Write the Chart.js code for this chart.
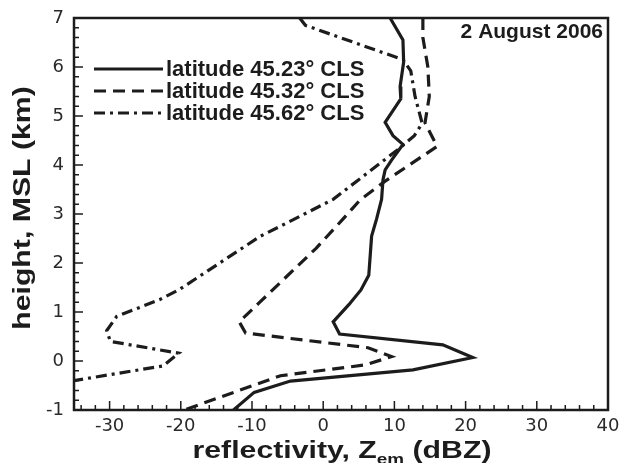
<!DOCTYPE html>
<html>
<head>
<meta charset="utf-8">
<script src="https://cdn.jsdelivr.net/npm/chart.js@4.4.1/dist/chart.umd.min.js"></script>
<style>
  html, body { margin: 0; padding: 0; background: #fff; }
  canvas { display: block; }
</style>
</head>
<body>
<canvas id="profile" width="619" height="463"></canvas>
<script>
// axis ticks
const xTickValues = [-30, -20, -10, 0, 10, 20, 30, 40];
const yTickValues = [-1, 0, 1, 2, 3, 4, 5, 6, 7];

// legend labels
const seriesLabels = ['latitude 45.23° CLS', 'latitude 45.32° CLS', 'latitude 45.62° CLS'];

// latitude 45.23
const height1 = [7.0, 6.55, 6.1, 5.6, 5.35, 4.87, 4.6, 4.42, 4.1, 3.9, 3.7, 3.3, 2.9, 2.55, 1.75, 1.45, 1.15, 0.8, 0.55, 0.33, 0.07, -0.18, -0.41, -0.64, -1.0];
const dbz1 = [9.4, 11.2, 11.3, 10.8, 10.9, 8.7, 9.8, 11.2, 9.6, 8.7, 8.4, 8.2, 7.5, 6.8, 6.4, 5.3, 3.6, 1.4, 2.3, 16.8, 21.0, 12.6, -4.6, -9.7, -12.6];

// latitude 45.32
const height2 = [7.0, 6.6, 6.0, 5.4, 4.86, 4.38, 3.67, 3.29, 2.9, 2.3, 1.73, 1.2, 0.8, 0.57, 0.27, 0.09, -0.08, -0.3, -1.0];
const dbz2 = [14.0, 14.0, 14.7, 14.9, 14.3, 16.0, 8.7, 5.2, 2.8, -1.0, -5.1, -8.9, -11.8, -10.9, 6.3, 9.6, 5.9, -6.0, -19.5];

// latitude 45.62
const height3 = [7.0, 6.85, 6.15, 5.92, 5.4, 4.85, 4.6, 4.35, 3.3, 2.95, 2.54, 1.45, 1.25, 0.91, 0.62, 0.40, 0.16, -0.1, -0.4];
const dbz3 = [-3.3, -2.5, 11.2, 12.3, 12.9, 13.9, 12.8, 10.8, 1.4, -3.3, -8.9, -20.3, -23.0, -29.0, -30.4, -29.9, -20.3, -22.5, -35];

const INK = '#1c1c1c';
const dashes = [[], [12, 7], [11, 5, 3, 5]];

function toPoints(xs, ys) {
    return xs.map((x, i) => ({ x: x, y: ys[i] }));
}

function makeDataset(label, xs, ys, dash) {
    return {
        label: label,
        data: toPoints(xs, ys),
        borderColor: INK,
        borderWidth: 3.2,
        borderDash: dash,
        pointRadius: 0,
        tension: 0,
        fill: false
    };
}

// text drawn wider than the font's normal proportions
function drawWide(ctx, parts, x, y, stretch) {
    let total = 0;
    parts.forEach(p => { ctx.font = p.font; total += ctx.measureText(p.text).width; });
    ctx.save();
    ctx.translate(x, y);
    ctx.scale(stretch, 1);
    let cx = -total / 2;
    ctx.textAlign = 'left';
    ctx.textBaseline = 'alphabetic';
    parts.forEach(p => {
        ctx.font = p.font;
        ctx.fillText(p.text, cx, p.dy || 0);
        cx += ctx.measureText(p.text).width;
    });
    ctx.restore();
}

const decorations = {
    id: 'decorations',
    afterDraw(chart) {
        const ctx = chart.ctx;
        const area = chart.chartArea;
        const xs = chart.scales.x;
        const ys = chart.scales.y;

        ctx.save();
        ctx.strokeStyle = INK;
        ctx.fillStyle = INK;

        // inward tick marks
        ctx.lineWidth = 1.5;
        ctx.beginPath();
        for (let v = -34; v < 40; v += 2) {
            const px = xs.getPixelForValue(v);
            const len = v % 10 === 0 ? 9 : 5;
            ctx.moveTo(px, area.bottom);
            ctx.lineTo(px, area.bottom - len);
        }
        for (let k = -5; k < 35; k++) {
            const v = k / 5;
            const py = ys.getPixelForValue(v);
            const len = k % 5 === 0 ? 9 : 5;
            ctx.moveTo(area.left, py);
            ctx.lineTo(area.left + len, py);
        }
        ctx.stroke();

        // frame
        ctx.lineWidth = 2.5;
        ctx.strokeRect(area.left, area.top, area.right - area.left, area.bottom - area.top);

        // legend
        ctx.font = 'bold 22px "Liberation Sans", Arial, sans-serif';
        ctx.textBaseline = 'middle';
        ctx.textAlign = 'left';
        const rows = [69, 91, 113];
        chart.data.datasets.forEach((ds, i) => {
            ctx.save();
            ctx.lineWidth = 3.2;
            ctx.setLineDash(ds.borderDash);
            ctx.beginPath();
            ctx.moveTo(94, rows[i]);
            ctx.lineTo(163, rows[i]);
            ctx.stroke();
            ctx.restore();
            ctx.fillText(ds.label, 166, rows[i] + 1);
        });

        // date
        ctx.font = 'bold 21px "Liberation Sans", Arial, sans-serif';
        ctx.textAlign = 'right';
        ctx.textBaseline = 'alphabetic';
        ctx.fillText('2 August 2006', 603, 38);

        // axis titles
        const big = 'bold 24px "Liberation Sans", Arial, sans-serif';
        const small = 'bold 15px "Liberation Sans", Arial, sans-serif';
        drawWide(ctx, [
            { text: 'reflectivity, Z', font: big },
            { text: 'em', font: small, dy: 6 },
            { text: ' (dBZ)', font: big }
        ], 342, 458, 1.26);

        ctx.save();
        ctx.translate(30, 208);
        ctx.rotate(-Math.PI / 2);
        drawWide(ctx, [{ text: 'height, MSL (km)', font: big }], 0, 0, 1.26);
        ctx.restore();

        ctx.restore();
    }
};

const tickFont = { family: '"DejaVu Sans", sans-serif', size: 18 };

new Chart(document.getElementById('profile'), {
    type: 'line',
    data: {
        datasets: [
            makeDataset(seriesLabels[0], dbz1, height1, dashes[0]),
            makeDataset(seriesLabels[1], dbz2, height2, dashes[1]),
            makeDataset(seriesLabels[2], dbz3, height3, dashes[2])
        ]
    },
    options: {
        responsive: false,
        animation: false,
        layout: { padding: { top: 18, right: 11, left: 0, bottom: 0 } },
        plugins: {
            legend: { display: false },
            tooltip: { enabled: false }
        },
        scales: {
            x: {
                type: 'linear',
                min: -35,
                max: 40,
                afterBuildTicks: s => { s.ticks = xTickValues.map(v => ({ value: v })); },
                afterFit: s => { s.height = 53; },
                grid: { display: false },
                border: { display: false },
                ticks: { font: tickFont, color: '#2a2a2a', padding: -2, maxRotation: 0 }
            },
            y: {
                type: 'linear',
                min: -1,
                max: 7,
                afterBuildTicks: s => { s.ticks = yTickValues.map(v => ({ value: v })); },
                afterFit: s => { s.width = 74; },
                grid: { display: false },
                border: { display: false },
                ticks: { font: tickFont, color: '#2a2a2a', padding: 2 }
            }
        }
    },
    plugins: [decorations]
});
</script>
</body>
</html>
